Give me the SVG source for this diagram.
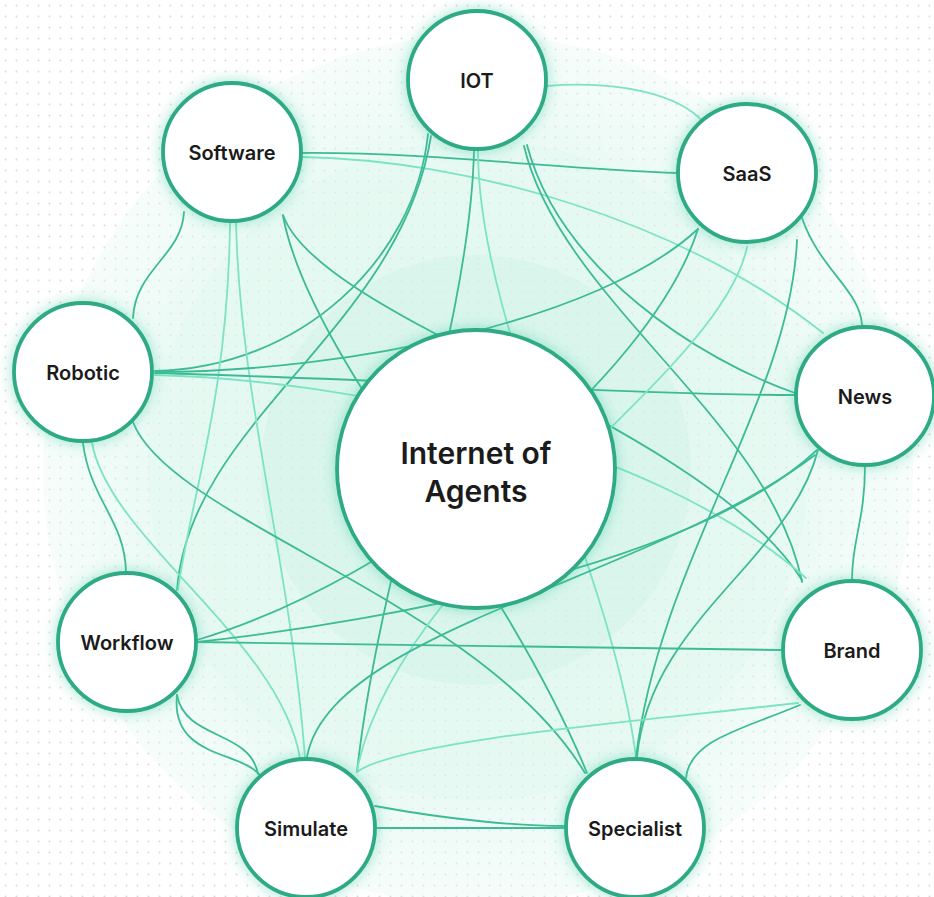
<svg xmlns="http://www.w3.org/2000/svg" width="934" height="897" viewBox="0 0 934 897">
  <defs>
    <pattern id="dots" width="11" height="11" patternUnits="userSpaceOnUse">
      <circle cx="5.5" cy="5.5" r="0.9" fill="#dcdcdc"/>
    </pattern>
    <radialGradient id="bgGlow" cx="476" cy="470" r="440" gradientUnits="userSpaceOnUse">
      <stop offset="0" stop-color="#cff3e6" stop-opacity="0.9"/>
      <stop offset="0.45" stop-color="#d9f6ec" stop-opacity="0.8"/>
      <stop offset="0.8" stop-color="#e6f9f2" stop-opacity="0.7"/>
      <stop offset="1" stop-color="#eefbf6" stop-opacity="0.5"/>
    </radialGradient>
    <filter id="glow" x="-40%" y="-40%" width="180%" height="180%">
      <feDropShadow dx="0" dy="0" stdDeviation="7" flood-color="#3cc99e" flood-opacity="0.5"/>
    </filter>
    <style>
      .edge { fill: none; stroke-width: 1.8; stroke-linecap: round; }
      .d { stroke: #3dbb94; }
      .l { stroke: #7ce4c3; }
      .node circle { fill: #ffffff; stroke: #2daa84; stroke-width: 3.8; filter: url(#glow); }
      .node text { font-family: Inter, "Noto Sans", "Liberation Sans", sans-serif; font-weight: 600; font-size: 20px; fill: #1b1b1b; text-anchor: middle; dominant-baseline: central; }
      .hub text { font-size: 30px; }
    </style>
  </defs>

  <rect width="934" height="897" fill="#ffffff"/>
  <rect width="934" height="897" fill="url(#dots)"/>
  <circle cx="478" cy="470" r="435" fill="url(#bgGlow)"/>
  <circle cx="478" cy="470" r="330" fill="#e2f8f0" opacity="0.6"/>
  <circle cx="476" cy="470" r="215" fill="#d6f5ea" opacity="0.6"/>
  <rect width="934" height="897" fill="url(#dots)" opacity="0.6"/>

  <g id="connectors">
    <path class="edge l" d="M546,86 C620,80 680,95 703,122"/>
    <path class="edge d" d="M302,153 C430,152 570,170 677,173"/>
    <path class="edge l" d="M302,157 C470,160 680,220 823,333"/>
    <path class="edge d" d="M428,134 C415,260 300,368 155,371"/>
    <path class="edge d" d="M431,136 C400,330 190,420 177,590"/>
    <path class="edge l" d="M478,150 C478,330 610,560 636,757"/>
    <path class="edge d" d="M474,150 C470,330 380,560 357,772"/>
    <path class="edge d" d="M527,145 C560,270 700,360 795,393"/>
    <path class="edge d" d="M524,146 C560,300 770,420 802,582"/>
    <path class="edge d" d="M184,212 C182,255 135,270 133,318"/>
    <path class="edge l" d="M230,222 C228,400 190,500 178,590"/>
    <path class="edge l" d="M236,222 C240,400 290,560 305,757"/>
    <path class="edge d" d="M283,215 C320,320 700,420 802,580"/>
    <path class="edge d" d="M283,216 C310,360 500,560 587,773"/>
    <path class="edge d" d="M155,372 C350,372 600,320 698,229"/>
    <path class="edge d" d="M155,373 C400,380 650,395 795,395"/>
    <path class="edge d" d="M83,443 C90,500 125,520 126,572"/>
    <path class="edge l" d="M92,443 C110,540 280,640 300,758"/>
    <path class="edge d" d="M133,422 C170,520 480,600 585,773"/>
    <path class="edge l" d="M155,375 C350,380 650,440 806,578"/>
    <path class="edge d" d="M698,229 C650,380 400,580 197,640"/>
    <path class="edge l" d="M747,247 C720,380 400,560 357,770"/>
    <path class="edge d" d="M797,240 C790,400 660,560 636,757"/>
    <path class="edge d" d="M802,218 C820,270 860,290 862,325"/>
    <path class="edge d" d="M865,466 C865,520 852,540 852,579"/>
    <path class="edge d" d="M817,450 C700,560 400,620 197,642"/>
    <path class="edge d" d="M815,455 C650,580 330,630 307,757"/>
    <path class="edge d" d="M818,450 C790,560 650,620 637,757"/>
    <path class="edge d" d="M781,650 C600,648 400,644 197,642"/>
    <path class="edge l" d="M798,703 C650,720 400,740 357,772"/>
    <path class="edge d" d="M800,705 C740,730 690,740 686,778"/>
    <path class="edge d" d="M177,695 C185,740 250,730 258,774"/>
    <path class="edge d" d="M177,695 C170,760 245,750 262,778"/>
    <path class="edge d" d="M377,828 L564,828"/>
    <path class="edge d" d="M375,806 C450,820 520,826 564,826"/>
  </g>

  <g id="node-center" class="node hub">
    <circle cx="476" cy="469" r="139"/>
    <text x="476" y="453">Internet of</text>
    <text x="476" y="491">Agents</text>
  </g>
  <g id="node-iot" class="node">
    <circle cx="477" cy="80" r="69"/>
    <text x="477" y="81">IOT</text>
  </g>
  <g id="node-software" class="node">
    <circle cx="232" cy="152" r="69"/>
    <text x="232" y="153">Software</text>
  </g>
  <g id="node-saas" class="node">
    <circle cx="747" cy="173" r="69"/>
    <text x="747" y="174">SaaS</text>
  </g>
  <g id="node-robotic" class="node">
    <circle cx="83" cy="372" r="69"/>
    <text x="83" y="373">Robotic</text>
  </g>
  <g id="node-news" class="node">
    <circle cx="865" cy="396" r="69"/>
    <text x="865" y="397">News</text>
  </g>
  <g id="node-workflow" class="node">
    <circle cx="127" cy="642" r="69"/>
    <text x="127" y="643">Workflow</text>
  </g>
  <g id="node-brand" class="node">
    <circle cx="852" cy="650" r="69"/>
    <text x="852" y="651">Brand</text>
  </g>
  <g id="node-simulate" class="node">
    <circle cx="306" cy="828" r="69"/>
    <text x="306" y="829">Simulate</text>
  </g>
  <g id="node-specialist" class="node">
    <circle cx="635" cy="828" r="69"/>
    <text x="635" y="829">Specialist</text>
  </g>
</svg>
